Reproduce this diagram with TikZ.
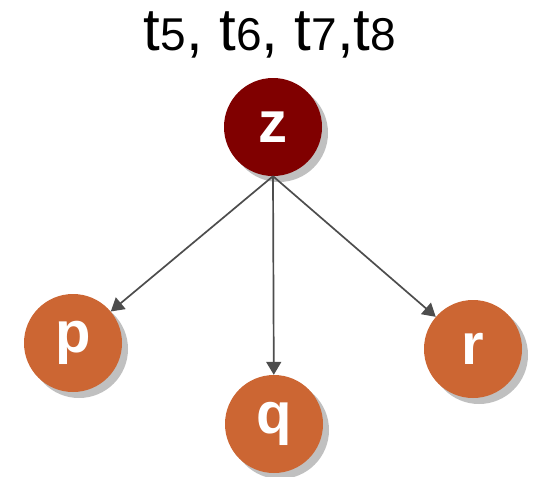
\documentclass[tikz,border=0pt]{standalone}
\usepackage{fontspec}
\setmainfont{Liberation Sans}
\usepackage{tikz}
\usetikzlibrary{arrows.meta,shapes,positioning,shadows}
\usepackage{xcolor}
\definecolor{rootred}{RGB}{128,0,0}
\definecolor{leaforange}{RGB}{204,102,51}
\definecolor{shadowgray}{RGB}{192,192,192}
\definecolor{edgegray}{RGB}{77,77,77}
\tikzstyle{vertex} = [circle, minimum size=98pt, inner sep=0pt, text=white, font=\fontsize{58}{64}\selectfont\bfseries, drop shadow={shadow xshift=6pt, shadow yshift=-6pt, fill=shadowgray, opacity=1}]
\tikzstyle{arrow} = [line width=1.7pt, -{Triangle[length=13pt,width=15pt]}, color=edgegray]
\newcommand{\dg}[1]{{\fontsize{46}{50}\selectfont #1}}

\begin{document}
\begin{tikzpicture}[x=1pt, y=-1pt]
\useasboundingbox (0,0) rectangle (536,477);
\node (title) at (270,35) {\fontsize{60}{66}\selectfont t\dg{5}, t\dg{6}, t\dg{7},t\dg{8}};
\node (z) [vertex, fill=rootred] at (273,127) {z};
\node (p) [vertex, fill=leaforange] at (73,343) {p};
\node (q) [vertex, fill=leaforange] at (274,424) {q};
\node (r) [vertex, fill=leaforange] at (473,349) {r};

\draw[arrow] (z.south) -- (p);
\draw[arrow] (z.south) -- (q);
\draw[arrow] (z.south) -- (r);
\end{tikzpicture}
\end{document}
